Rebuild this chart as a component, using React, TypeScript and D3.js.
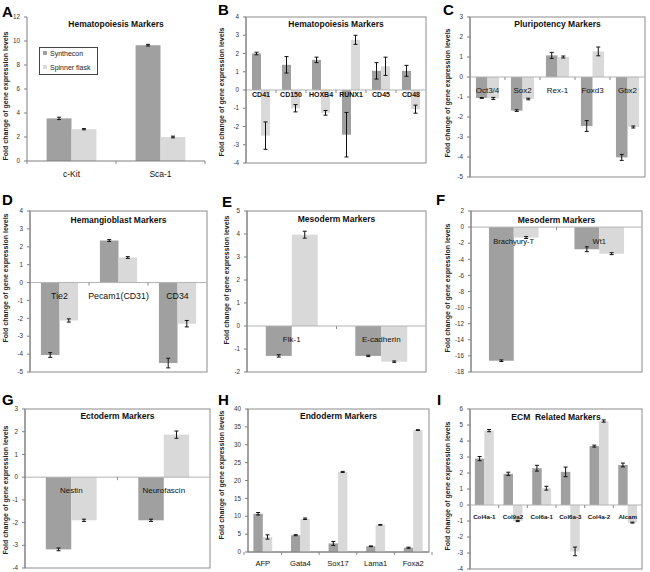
import React from 'react';
import * as d3 from 'd3';

const seriesNames = ['Synthecon', 'Spinner flask'];
const yLabel = 'Fold change of gene expression levels';

// A
const catsA = ['c-Kit', 'Sca-1'];
const synA = [3.55, 9.65];
const synErrA = [0.1, 0.07];
const spA = [2.65, 2.0];
const spErrA = [0.05, 0.07];
const ticksA = [0, 2, 4, 6, 8, 10, 12];
// B
const catsB = ['CD41', 'CD150', 'HOXB4', 'RUNX1', 'CD45', 'CD48'];
const synB = [2.0, 1.38, 1.65, -2.45, 1.05, 1.05];
const synErrB = [0.07, 0.45, 0.15, 1.22, 0.45, 0.3];
const spB = [-2.5, -1.0, -1.25, 2.75, 1.3, -1.05];
const spErrB = [0.75, 0.2, 0.13, 0.25, 0.5, 0.22];
const ticksB = [-4, -3, -2, -1, 0, 1, 2, 3, 4];
// C
const catsC = ['Oct3/4', 'Sox2', 'Rex-1', 'Foxd3', 'Gbx2'];
const synC = [-1.05, -1.68, 1.08, -2.45, -4.02];
const synErrC = [0.02, 0.04, 0.15, 0.27, 0.15];
const spC = [-1.07, -1.1, 1.0, 1.28, -2.5];
const spErrC = [0.05, 0.04, 0.05, 0.22, 0.05];
const ticksC = [-5, -4, -3, -2, -1, 0, 1, 2, 3];
// D
const catsD = ['Tie2', 'Pecam1(CD31)', 'CD34'];
const synD = [-4.05, 2.35, -4.5];
const synErrD = [0.13, 0.05, 0.27];
const spD = [-2.12, 1.4, -2.3];
const spErrD = [0.09, 0.05, 0.18];
const ticksD = [-5, -4, -3, -2, -1, 0, 1, 2, 3, 4];
// E
const catsE = ['Flk-1', 'E-cadherin'];
const synE = [-1.3, -1.3];
const synErrE = [0.05, 0.03];
const spE = [3.97, -1.55];
const spErrE = [0.15, 0.03];
const ticksE = [-2, -1, 0, 1, 2, 3, 4, 5];
// F
const catsF = ['Brachyury-T', 'Wt1'];
const synF = [-16.6, -2.75];
const synErrF = [0.1, 0.3];
const spF = [-1.3, -3.3];
const spErrF = [0.12, 0.12];
const ticksF = [-18, -16, -14, -12, -10, -8, -6, -4, -2, 0, 2];
// G
const catsG = ['Nestin', 'Neurofascin'];
const synG = [-3.18, -1.9];
const synErrG = [0.06, 0.05];
const spG = [-1.9, 1.87];
const spErrG = [0.05, 0.16];
const ticksG = [-4, -3, -2, -1, 0, 1, 2, 3];
// H
const catsH = ['AFP', 'Gata4', 'Sox17', 'Lama1', 'Foxa2'];
const synH = [10.7, 4.7, 2.4, 1.6, 1.2];
const synErrH = [0.35, 0.15, 0.55, 0.1, 0.15];
const spH = [4.2, 9.3, 22.4, 7.6, 34.1];
const spErrH = [0.6, 0.2, 0.15, 0.1, 0.1];
const ticksH = [0, 5, 10, 15, 20, 25, 30, 35, 40];
// I
const catsI = ['Col4a-1', 'Col9a2', 'Col6a-1', 'Col6a-3', 'Col4a-2', 'Alcam'];
const synI = [2.9, 1.95, 2.3, 2.07, 3.68, 2.5];
const synErrI = [0.13, 0.1, 0.18, 0.3, 0.06, 0.12];
const spI = [4.65, -1.0, 1.05, -2.9, 5.25, -1.1];
const spErrI = [0.07, 0.04, 0.12, 0.27, 0.07, 0.03];
const ticksI = [-4, -3, -2, -1, 0, 1, 2, 3, 4, 5, 6];

const SYN = '#a0a0a0';
const SP = '#d9d9d9';
const FONT = 'Liberation Sans, Arial, sans-serif';

type Cfg = {
  letter: string; letterPos: [number, number]; title: string; titleY: number;
  cats: string[]; syn: number[]; synErr: number[]; sp: number[]; spErr: number[]; ticks: number[];
  box: [number, number, number, number]; band?: [number, number]; frac: number; border: boolean;
  labelAt: 'zero' | 'bottom'; labelOff: number; labelSize: number; labelBold: boolean;
  ylab: [number, number]; legend?: boolean;
};

const panels: Cfg[] = [
  { letter: 'A', letterPos: [2, 17], title: 'Hematopoiesis Markers', titleY: 27, cats: catsA, syn: synA, synErr: synErrA, sp: spA, spErr: spErrA, ticks: ticksA,
    box: [27, 17, 205, 161], frac: 0.56, border: false, labelAt: 'bottom', labelOff: 16, labelSize: 8.5, labelBold: false, ylab: [8, 96], legend: true },
  { letter: 'B', letterPos: [218, 15], title: 'Hematopoiesis Markers', titleY: 27, cats: catsB, syn: synB, synErr: synErrB, sp: spB, spErr: spErrB, ticks: ticksB,
    box: [246, 17, 426, 163], frac: 0.6, border: true, labelAt: 'zero', labelOff: 7, labelSize: 7, labelBold: true, ylab: [224, 92] },
  { letter: 'C', letterPos: [443, 15], title: 'Pluripotency Markers', titleY: 27, cats: catsC, syn: synC, synErr: synErrC, sp: spC, spErr: spErrC, ticks: ticksC,
    box: [470, 17, 645, 177], frac: 0.66, border: true, labelAt: 'zero', labelOff: 16, labelSize: 8, labelBold: false, ylab: [450, 93] },
  { letter: 'D', letterPos: [2, 205], title: 'Hemangioblast Markers', titleY: 223, cats: catsD, syn: synD, synErr: synErrD, sp: spD, spErr: spErrD, ticks: ticksD,
    box: [30, 211, 207, 372], frac: 0.63, border: true, labelAt: 'zero', labelOff: 16, labelSize: 8.8, labelBold: false, ylab: [8, 278] },
  { letter: 'E', letterPos: [222, 207], title: 'Mesoderm Markers', titleY: 222, cats: catsE, syn: synE, synErr: synErrE, sp: spE, spErr: spErrE, ticks: ticksE,
    box: [247, 211, 426, 372], frac: 0.58, border: true, labelAt: 'zero', labelOff: 16, labelSize: 8, labelBold: false, ylab: [229, 280] },
  { letter: 'F', letterPos: [436, 205], title: 'Mesoderm Markers', titleY: 223, cats: catsF, syn: synF, synErr: synErrF, sp: spF, spErr: spErrF, ticks: ticksF,
    box: [471, 211, 642, 372], frac: 0.58, border: true, labelAt: 'zero', labelOff: 17, labelSize: 7.5, labelBold: false, ylab: [450, 288] },
  { letter: 'G', letterPos: [2, 405], title: 'Ectoderm Markers', titleY: 419, cats: catsG, syn: synG, synErr: synErrG, sp: spG, spErr: spErrG, ticks: ticksG,
    box: [25, 409, 210, 568], frac: 0.55, border: true, labelAt: 'zero', labelOff: 16, labelSize: 8, labelBold: false, ylab: [8, 490] },
  { letter: 'H', letterPos: [218, 405], title: 'Endoderm Markers', titleY: 419, cats: catsH, syn: synH, synErr: synErrH, sp: spH, spErr: spErrH, ticks: ticksH,
    box: [248, 409, 429, 552], band: [244, 432], frac: 0.5, border: true, labelAt: 'bottom', labelOff: 14, labelSize: 7.6, labelBold: false, ylab: [224, 475] },
  { letter: 'I', letterPos: [437, 405], title: 'ECM  Related Markers', titleY: 420, cats: catsI, syn: synI, synErr: synErrI, sp: spI, spErr: spErrI, ticks: ticksI,
    box: [470, 409, 642, 569], frac: 0.66, border: true, labelAt: 'zero', labelOff: 14, labelSize: 6.2, labelBold: true, ylab: [450, 486] },
];

function Panel({ c }: { c: Cfg }) {
  const [x0, y0, x1, y1] = c.box;
  const dom = d3.extent(c.ticks) as [number, number];
  const y = d3.scaleLinear().domain(dom).range([y1, y0]);
  const xb = d3.scaleBand<string>().domain(c.cats).range(c.band ?? [x0, x1]);
  const bw = (xb.bandwidth() * c.frac) / 2;
  const catY = c.labelAt === 'zero' ? y(0) : y1;
  const series = [
    { vals: c.syn, errs: c.synErr, color: SYN, off: -bw },
    { vals: c.sp, errs: c.spErr, color: SP, off: 0 },
  ];
  const cx = (x0 + x1) / 2;
  const step = xb.step();
  const bStart = (c.band ?? [x0, x1])[0];
  return (
    <g fontFamily={FONT}>
      <text x={c.letterPos[0]} y={c.letterPos[1]} fontSize={15} fontWeight="bold" fill="#000">{c.letter}</text>
      <text transform={`translate(${c.ylab[0]},${c.ylab[1]}) rotate(-90)`} textAnchor="middle" fontSize={7} fontWeight="bold" fill="#222"
        textLength={129} lengthAdjust="spacingAndGlyphs">{yLabel}</text>
      {c.border && <rect x={x0} y={y0} width={x1 - x0} height={y1 - y0} fill="none" stroke="#8c8c8c" strokeWidth={1} />}
      {series.map((s, si) => s.vals.map((v, i) => {
        const bx = xb(c.cats[i])! + xb.bandwidth() / 2 + s.off;
        return <rect key={`b${si}-${i}`} x={bx} width={bw} y={Math.min(y(v), y(0))} height={Math.abs(y(v) - y(0))} fill={s.color} />;
      }))}
      {c.labelAt === 'zero' && <line x1={x0} x2={x1} y1={y(0)} y2={y(0)} stroke="#b3b3b3" strokeWidth={1} />}
      {d3.range(c.labelAt === 'bottom' ? 0 : 1, c.cats.length + (c.labelAt === 'bottom' ? 1 : 0)).map(k => {
        const tx = bStart + k * step;
        return <line key={`s${k}`} x1={tx} x2={tx} y1={catY} y2={catY + 3} stroke="#8c8c8c" />;
      })}
      <line x1={x0} x2={x0} y1={y0} y2={y1} stroke="#7f7f7f" />
      {c.labelAt === 'bottom' && <line x1={x0} x2={x1} y1={y1} y2={y1} stroke="#7f7f7f" />}
      {c.ticks.map(t => (
        <g key={`t${t}`}>
          <line x1={x0 - 3} x2={x0} y1={y(t)} y2={y(t)} stroke="#7f7f7f" />
          <text x={x0 - 7} y={y(t)} dy="0.35em" textAnchor="end" fontSize={6.3} fill="#333">{t}</text>
        </g>
      ))}
      <text x={cx} y={c.titleY} textAnchor="middle" fontSize={8.5} fontWeight="bold" fill="#111" style={{ whiteSpace: 'pre' }}>{c.title}</text>
      {c.cats.map((cat, i) => (
        <text key={`l${i}`} x={xb(cat)! + xb.bandwidth() / 2} y={catY + c.labelOff} textAnchor="middle" fontSize={c.labelSize}
          fontWeight={c.labelBold ? 'bold' : 'normal'} fill="#111">{cat}</text>
      ))}
      {series.map((s, si) => s.vals.map((v, i) => {
        const mx = xb(c.cats[i])! + xb.bandwidth() / 2 + s.off + bw / 2;
        const e = s.errs[i];
        const ya = y(v + e), yb = y(v - e);
        return (
          <g key={`e${si}-${i}`} stroke="#111" strokeWidth={1}>
            <line x1={mx} x2={mx} y1={ya} y2={yb} />
            <line x1={mx - 2} x2={mx + 2} y1={ya} y2={ya} />
            <line x1={mx - 2} x2={mx + 2} y1={yb} y2={yb} />
          </g>
        );
      }))}
      {c.legend && (
        <g>
          <rect x={39.5} y={47.5} width={58} height={27} fill="#fff" stroke="#444" />
          {seriesNames.map((n, i) => (
            <g key={n}>
              <rect x={43} y={51 + i * 14} width={4} height={4} fill={i === 0 ? SYN : SP} />
              <text x={50} y={55.5 + i * 14} fontSize={7} fill="#222">{n}</text>
            </g>
          ))}
        </g>
      )}
    </g>
  );
}

export default function App() {
  return (
    <svg width={650} height={572} style={{ position: 'absolute', left: 0, top: 0, background: '#fff' }}>
      <rect width={650} height={572} fill="#fff" />
      {panels.map(p => <Panel key={p.letter} c={p} />)}
    </svg>
  );
}
